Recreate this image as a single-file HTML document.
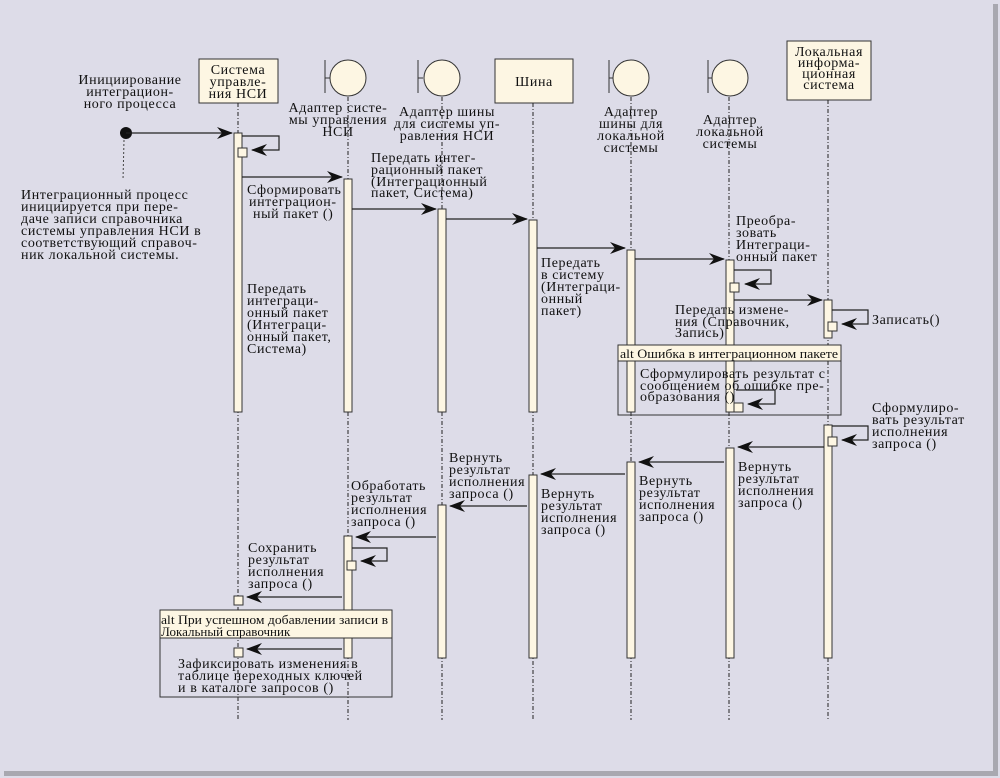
<!DOCTYPE html>
<html><head><meta charset="utf-8"><style>
html,body{margin:0;padding:0;background:#fff}
svg{display:block}
text{font-family:"Liberation Serif","DejaVu Serif",serif;font-size:14px;letter-spacing:0.6px;fill:#111}
.ll{stroke:#222;stroke-width:1;stroke-dasharray:4,2,1,2;fill:none}
.bar{fill:#fdf6e3;stroke:#333;stroke-width:1}
.m{stroke:#222;stroke-width:1.2;fill:none;marker-end:url(#ah)}
.sm{stroke:#222;stroke-width:1.2;fill:none;marker-end:url(#ah)}
.alt{font-size:13px;letter-spacing:0}
</style></head><body>
<svg width="1000" height="778" viewBox="0 0 1000 778">
<defs>
<marker id="ah" markerWidth="16" markerHeight="12" refX="15" refY="6" orient="auto" markerUnits="userSpaceOnUse">
<path d="M0,0 L16,6 L0,12 L5,6 z" fill="#111"/>
</marker>
</defs>
<rect x="0" y="0" width="1000" height="778" fill="#dddce8"/>
<rect x="993" y="4" width="5" height="772" fill="#a8a8b0"/>
<rect x="4" y="771" width="994" height="5" fill="#a8a8b0"/>

<!-- headers -->
<rect x="199" y="59" width="79" height="44" class="bar"/>
<text text-anchor="middle"><tspan x="238" y="74">Система</tspan><tspan x="238" y="86">управле-</tspan><tspan x="238" y="98">ния НСИ</tspan></text>
<line x1="325" y1="60" x2="325" y2="93" stroke="#333"/><line x1="325" y1="78" x2="330" y2="78" stroke="#333"/>
<circle cx="348" cy="78" r="18" class="bar"/>
<line x1="418" y1="60" x2="418" y2="93" stroke="#333"/><line x1="418" y1="78" x2="423" y2="78" stroke="#333"/>
<circle cx="442" cy="78" r="18" class="bar"/>
<rect x="495" y="59" width="78" height="44" class="bar"/>
<text x="534" y="86" text-anchor="middle">Шина</text>
<line x1="609" y1="60" x2="609" y2="93" stroke="#333"/><line x1="609" y1="78" x2="614" y2="78" stroke="#333"/>
<circle cx="631" cy="78" r="18" class="bar"/>
<line x1="708" y1="60" x2="708" y2="93" stroke="#333"/><line x1="708" y1="78" x2="713" y2="78" stroke="#333"/>
<circle cx="730" cy="78" r="18" class="bar"/>
<rect x="787" y="41" width="84" height="59" class="bar"/>
<text text-anchor="middle"><tspan x="829" y="56">Локальная</tspan><tspan x="829" y="67">информа-</tspan><tspan x="829" y="78">ционная</tspan><tspan x="829" y="89">система</tspan></text>

<text text-anchor="middle"><tspan x="338" y="112">Адаптер систе-</tspan><tspan x="338" y="124">мы управления</tspan><tspan x="338" y="136">НСИ</tspan></text>
<text text-anchor="middle"><tspan x="447" y="116">Адаптер шины</tspan><tspan x="447" y="128">для системы уп-</tspan><tspan x="447" y="140">равления НСИ</tspan></text>
<text text-anchor="middle"><tspan x="631" y="116">Адаптер</tspan><tspan x="631" y="128">шины для</tspan><tspan x="631" y="140">локальной</tspan><tspan x="631" y="152">системы</tspan></text>
<text text-anchor="middle"><tspan x="730" y="124">Адаптер</tspan><tspan x="730" y="136">локальной</tspan><tspan x="730" y="148">системы</tspan></text>
<text text-anchor="middle"><tspan x="130" y="84">Инициирование</tspan><tspan x="130" y="96">интеграцион-</tspan><tspan x="130" y="108">ного процесса</tspan></text>
<text><tspan x="21" y="199">Интеграционный процесс</tspan><tspan x="21" y="211">инициируется при пере-</tspan><tspan x="21" y="223">даче записи справочника</tspan><tspan x="21" y="235">системы управления НСИ в</tspan><tspan x="21" y="247">соответствующий справоч-</tspan><tspan x="21" y="259">ник локальной системы.</tspan></text>

<!-- lifelines -->
<line class="ll" x1="238" y1="103" x2="238" y2="720"/>
<line class="ll" x1="348" y1="97" x2="348" y2="720"/>
<line class="ll" x1="442" y1="97" x2="442" y2="720"/>
<line class="ll" x1="533" y1="103" x2="533" y2="720"/>
<line class="ll" x1="631" y1="97" x2="631" y2="720"/>
<line class="ll" x1="729" y1="97" x2="729" y2="720"/>
<line class="ll" x1="828" y1="100" x2="828" y2="720"/>
<line x1="124" y1="140" x2="123" y2="180" stroke="#444" stroke-dasharray="2,2"/>

<!-- bars -->
<rect class="bar" x="234" y="133" width="8" height="279"/>
<rect class="bar" x="344" y="179" width="8" height="233"/>
<rect class="bar" x="438" y="209" width="8" height="203"/>
<rect class="bar" x="529" y="220" width="8" height="192"/>
<rect class="bar" x="627" y="250" width="8" height="162"/>
<rect class="bar" x="726" y="260" width="8" height="152"/>
<rect class="bar" x="824" y="300" width="8" height="38"/>
<rect class="bar" x="824" y="425" width="8" height="233"/>
<rect class="bar" x="726" y="448" width="8" height="210"/>
<rect class="bar" x="627" y="462" width="8" height="196"/>
<rect class="bar" x="529" y="475" width="8" height="183"/>
<rect class="bar" x="438" y="505" width="8" height="153"/>
<rect class="bar" x="344" y="536" width="8" height="122"/>

<!-- alt frames -->
<rect x="618" y="345" width="223" height="70" fill="none" stroke="#333"/>
<rect x="618" y="345" width="223" height="16" class="bar"/>
<text class="alt" x="620" y="358" textLength="218" lengthAdjust="spacingAndGlyphs">alt Ошибка в интеграционном пакете</text>
<rect x="160" y="610" width="232" height="87" fill="none" stroke="#333"/>
<rect x="160" y="610" width="232" height="28" class="bar"/>
<text class="alt"><tspan x="161" y="624" textLength="227" lengthAdjust="spacingAndGlyphs">alt При успешном добавлении записи в</tspan><tspan x="161" y="636">Локальный справочник</tspan></text>

<!-- start -->
<circle cx="126" cy="133" r="6" fill="#111"/>
<line class="m" x1="126" y1="133" x2="232" y2="133"/>
<polyline class="sm" points="242,136 279,136 279,150 252,150"/>
<rect class="bar" x="238" y="148" width="9" height="9"/>
<line class="m" x1="242" y1="177" x2="342" y2="177"/>
<text><tspan x="247" y="194">Сформировать</tspan><tspan x="249" y="206">интеграцион-</tspan><tspan x="253" y="218">ный пакет ()</tspan></text>
<line class="m" x1="352" y1="209" x2="436" y2="209"/>
<text><tspan x="371" y="162">Передать интег-</tspan><tspan x="371" y="174">рационный пакет</tspan><tspan x="371" y="186">(Интеграционный</tspan><tspan x="371" y="197">пакет, Система)</tspan></text>
<line class="m" x1="446" y1="219" x2="527" y2="219"/>
<text><tspan x="247" y="293">Передать</tspan><tspan x="247" y="305">интеграци-</tspan><tspan x="247" y="317">онный пакет</tspan><tspan x="247" y="329">(Интеграци-</tspan><tspan x="247" y="341">онный пакет,</tspan><tspan x="247" y="353">Система)</tspan></text>
<line class="m" x1="537" y1="248" x2="625" y2="248"/>
<text><tspan x="541" y="267">Передать</tspan><tspan x="541" y="279">в систему</tspan><tspan x="541" y="291">(Интеграци-</tspan><tspan x="541" y="303">онный</tspan><tspan x="541" y="315">пакет)</tspan></text>
<line class="m" x1="635" y1="259" x2="724" y2="259"/>
<text><tspan x="736" y="225">Преобра-</tspan><tspan x="736" y="237">зовать</tspan><tspan x="736" y="249">Интеграци-</tspan><tspan x="736" y="261">онный пакет</tspan></text>
<polyline class="sm" points="734,270 771,270 771,284 745,284"/>
<rect class="bar" x="730" y="283" width="9" height="9"/>
<line class="m" x1="734" y1="300" x2="822" y2="300"/>
<text><tspan x="675" y="314">Передать измене-</tspan><tspan x="675" y="326">ния (Справочник,</tspan><tspan x="675" y="337">Запись)</tspan></text>
<polyline class="sm" points="832,310 868,310 868,324 842,324"/>
<rect class="bar" x="828" y="322" width="9" height="9"/>
<text x="872" y="324">Записать()</text>
<text><tspan x="640" y="378">Сформулировать результат с</tspan><tspan x="640" y="390">сообщением об ошибке пре-</tspan><tspan x="640" y="401">образования ()</tspan></text>
<polyline class="sm" points="736,390 775,390 775,404 748,404"/>
<rect class="bar" x="734" y="403" width="9" height="9"/>
<text><tspan x="872" y="412">Сформулиро-</tspan><tspan x="872" y="424">вать результат</tspan><tspan x="872" y="436">исполнения</tspan><tspan x="872" y="448">запроса ()</tspan></text>
<polyline class="sm" points="832,426 868,426 868,440 842,440"/>
<rect class="bar" x="828" y="437" width="9" height="9"/>
<line class="m" x1="824" y1="447" x2="738" y2="447"/>
<text><tspan x="738" y="471">Вернуть</tspan><tspan x="738" y="483">результат</tspan><tspan x="738" y="495">исполнения</tspan><tspan x="738" y="507">запроса ()</tspan></text>
<line class="m" x1="724" y1="462" x2="639" y2="462"/>
<text><tspan x="639" y="485">Вернуть</tspan><tspan x="639" y="497">результат</tspan><tspan x="639" y="509">исполнения</tspan><tspan x="639" y="521">запроса ()</tspan></text>
<line class="m" x1="625" y1="474" x2="541" y2="474"/>
<text><tspan x="449" y="462">Вернуть</tspan><tspan x="449" y="474">результат</tspan><tspan x="449" y="486">исполнения</tspan><tspan x="449" y="498">запроса ()</tspan></text>
<line class="m" x1="527" y1="506" x2="450" y2="506"/>
<text><tspan x="541" y="498">Вернуть</tspan><tspan x="541" y="510">результат</tspan><tspan x="541" y="522">исполнения</tspan><tspan x="541" y="534">запроса ()</tspan></text>
<line class="m" x1="436" y1="537" x2="356" y2="537"/>
<text><tspan x="351" y="490">Обработать</tspan><tspan x="351" y="502">результат</tspan><tspan x="351" y="514">исполнения</tspan><tspan x="351" y="526">запроса ()</tspan></text>
<polyline class="sm" points="352,548 387,548 387,561 361,561"/>
<rect class="bar" x="347" y="561" width="9" height="9"/>
<line class="m" x1="342" y1="597" x2="247" y2="597"/>
<rect class="bar" x="234" y="596" width="9" height="9"/>
<text><tspan x="248" y="552">Сохранить</tspan><tspan x="248" y="564">результат</tspan><tspan x="248" y="576">исполнения</tspan><tspan x="248" y="588">запроса ()</tspan></text>
<line class="m" x1="342" y1="649" x2="247" y2="649"/>
<rect class="bar" x="234" y="648" width="9" height="9"/>
<text><tspan x="178" y="668">Зафиксировать изменения в</tspan><tspan x="178" y="680">таблице переходных ключей</tspan><tspan x="178" y="692">и в каталоге запросов ()</tspan></text>
</svg>
</body></html>
